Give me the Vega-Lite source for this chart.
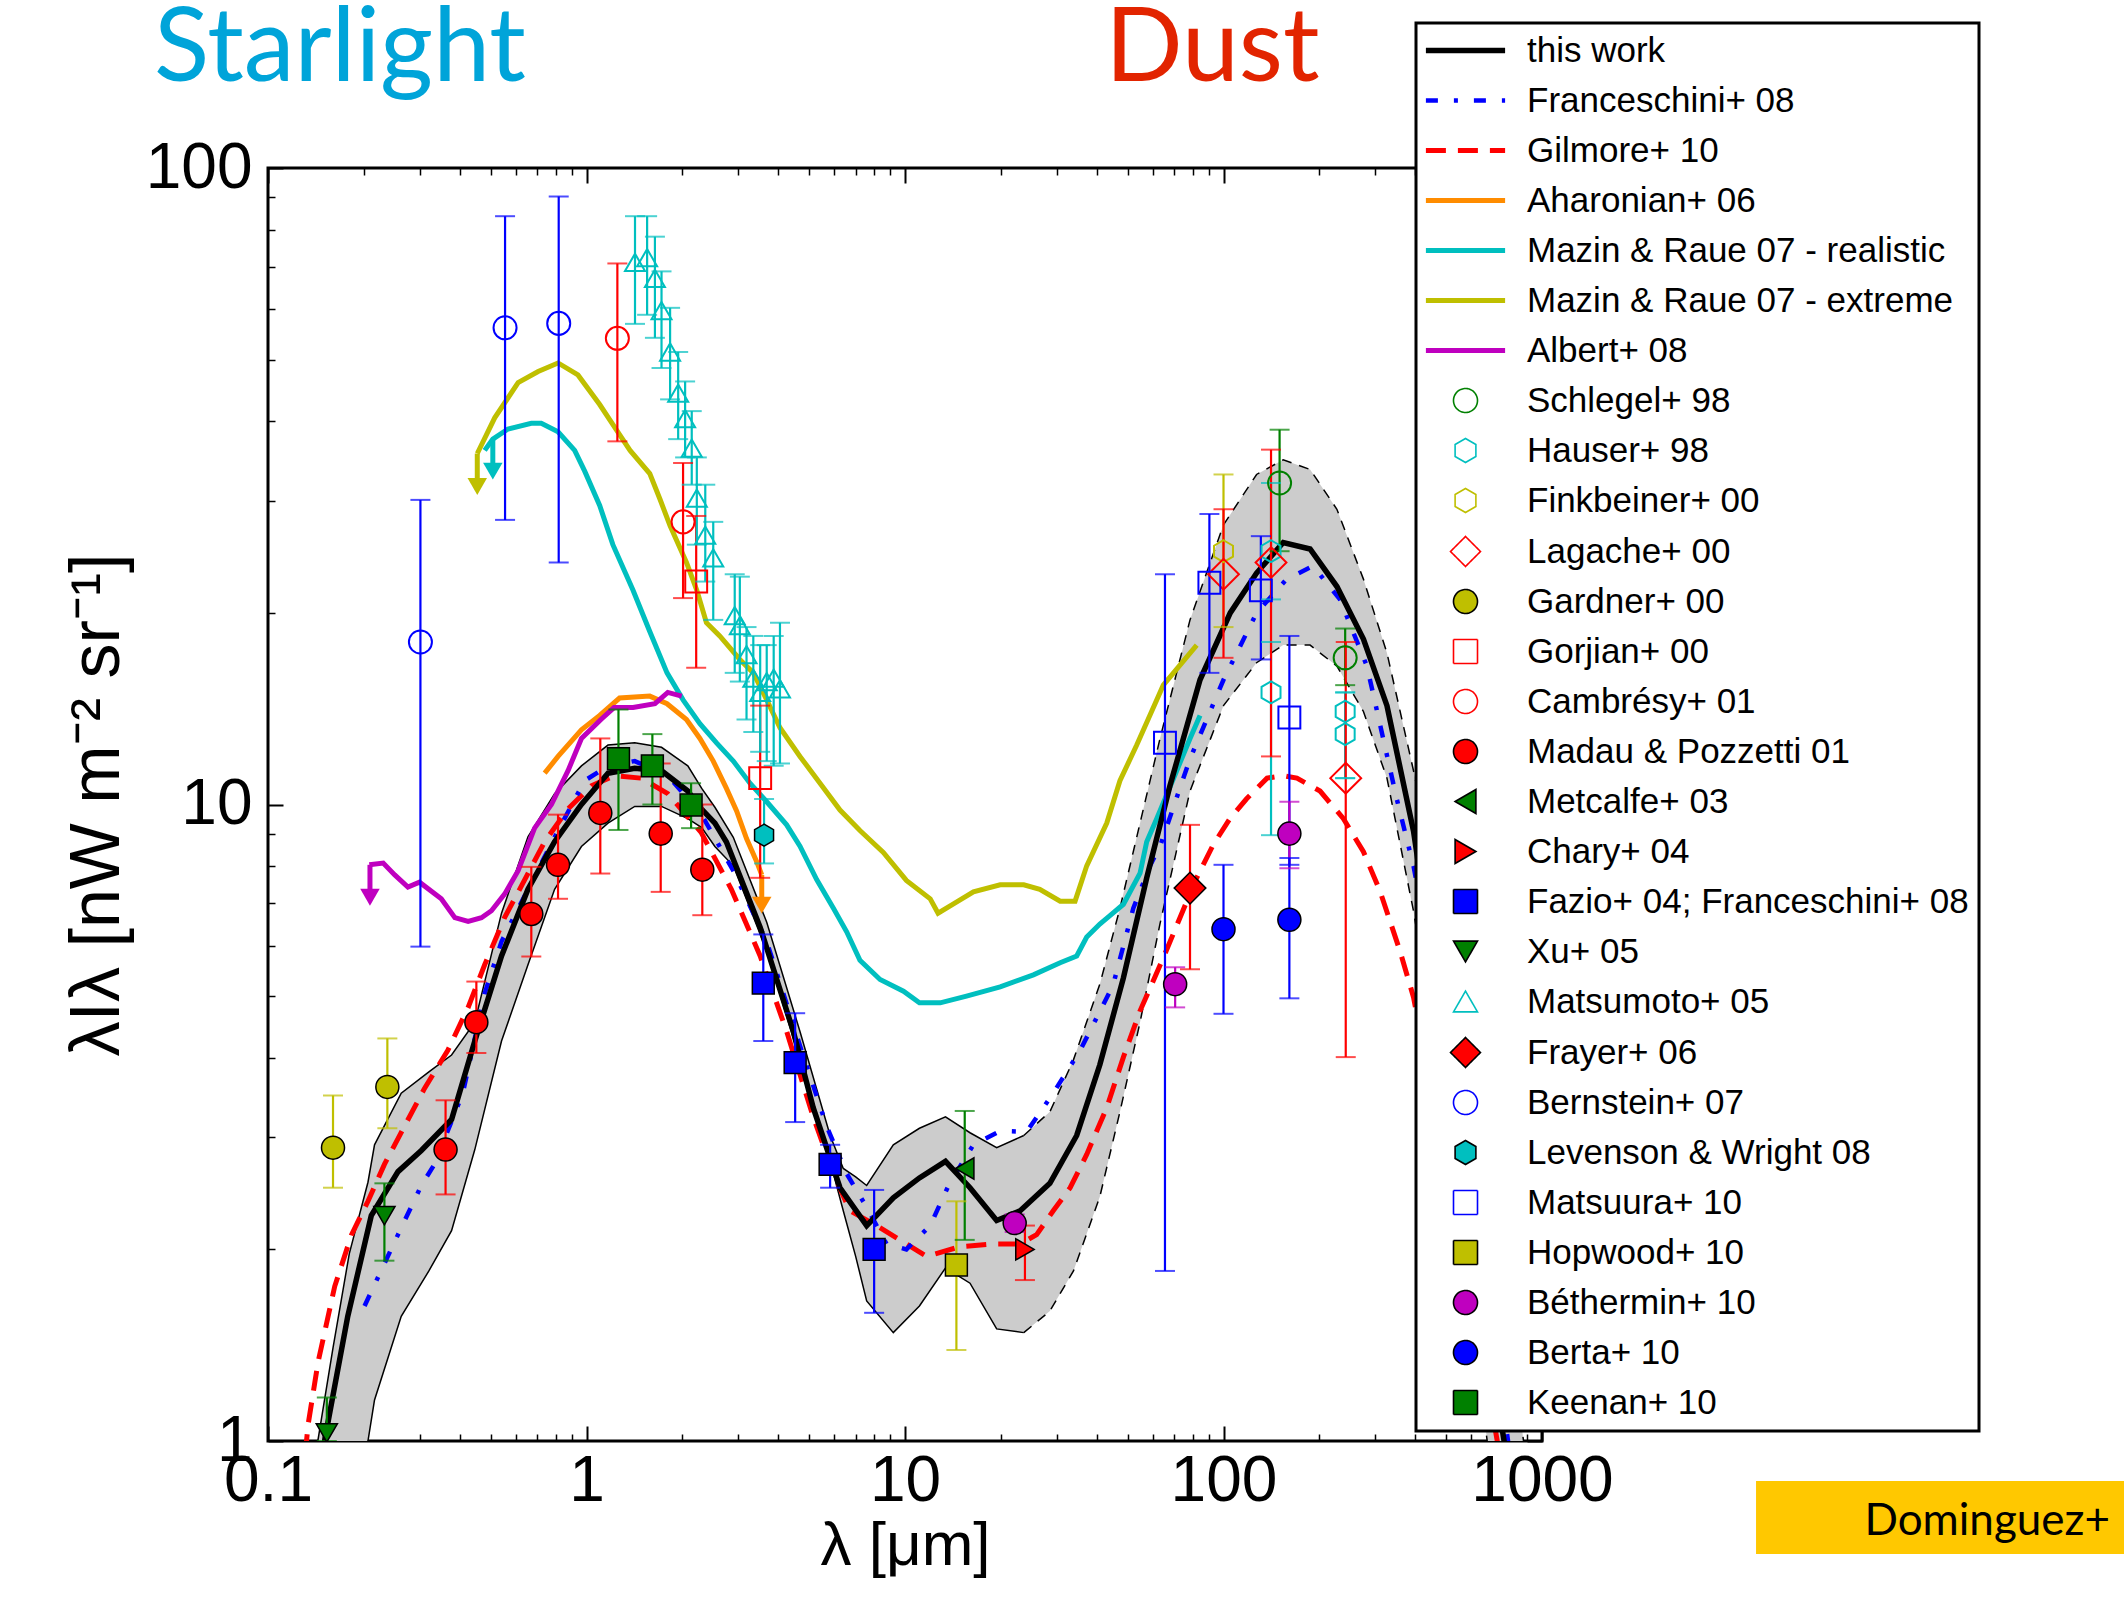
{
  "$schema": "https://vega.github.io/schema/vega-lite/v6.json",
  "width": 1274,
  "height": 1273,
  "autosize": {"type": "none"},
  "padding": {"left": 268, "top": 168, "right": 582, "bottom": 157},
  "background": "white",
  "config": {"view": {"stroke": "black", "strokeWidth": 3}, "axis": {"grid": false, "domain": false}},
  "params": [
    {"name": "SHP", "expr": "{'this work':'M-3.3,0H3.3','Franceschini+ 08':'M-3.3,0H3.3','Gilmore+ 10':'M-3.3,0H3.3','Aharonian+ 06':'M-3.3,0H3.3','Mazin & Raue 07 - realistic':'M-3.3,0H3.3','Mazin & Raue 07 - extreme':'M-3.3,0H3.3','Albert+ 08':'M-3.3,0H3.3','Schlegel+ 98':'circle','Hauser+ 98':'M0,-1L0.866,-0.5L0.866,0.5L0,1L-0.866,0.5L-0.866,-0.5Z','Finkbeiner+ 00':'M0,-1L0.866,-0.5L0.866,0.5L0,1L-0.866,0.5L-0.866,-0.5Z','Lagache+ 00':'diamond','Gardner+ 00':'circle','Gorjian+ 00':'square','Cambrésy+ 01':'circle','Madau & Pozzetti 01':'circle','Metcalfe+ 03':'triangle-left','Chary+ 04':'triangle-right','Fazio+ 04; Franceschini+ 08':'square','Xu+ 05':'triangle-down','Matsumoto+ 05':'triangle-up','Frayer+ 06':'diamond','Bernstein+ 07':'circle','Levenson & Wright 08':'M0,-1L0.866,-0.5L0.866,0.5L0,1L-0.866,0.5L-0.866,-0.5Z','Matsuura+ 10':'square','Hopwood+ 10':'square','Béthermin+ 10':'circle','Berta+ 10':'circle','Keenan+ 10':'square'}"},
    {"name": "FIL", "expr": "{'Gardner+ 00':'#BFBF00','Madau & Pozzetti 01':'#FF0000','Metcalfe+ 03':'#008000','Chary+ 04':'#FF0000','Fazio+ 04; Franceschini+ 08':'#0000FF','Xu+ 05':'#008000','Frayer+ 06':'#FF0000','Levenson & Wright 08':'#00BFBF','Hopwood+ 10':'#BFBF00','Béthermin+ 10':'#BF00BF','Berta+ 10':'#0000FF','Keenan+ 10':'#008000'}"},
    {"name": "DSH", "expr": "{'Franceschini+ 08':[12,16,4,16],'Gilmore+ 10':[20,12]}"},
    {"name": "LW", "expr": "{'this work':5.5,'Franceschini+ 08':4.5,'Gilmore+ 10':5,'Aharonian+ 06':5,'Mazin & Raue 07 - realistic':5,'Mazin & Raue 07 - extreme':5,'Albert+ 08':5}"}
  ],
  "datasets": {
    "band": [
      {"x":0.14,"lo":0.4,"hi":0.93},{"x":0.16,"lo":0.55,"hi":1.4},{"x":0.18,"lo":0.75,"hi":1.97},{"x":0.206,"lo":1.0,"hi":2.55},
      {"x":0.216,"lo":1.16,"hi":2.92},{"x":0.262,"lo":1.57,"hi":3.52},{"x":0.32,"lo":1.85,"hi":3.8},{"x":0.377,"lo":2.14,"hi":4.04},
      {"x":0.446,"lo":2.87,"hi":4.55},{"x":0.541,"lo":4.25,"hi":6.75},{"x":0.655,"lo":5.6,"hi":8.9},{"x":0.794,"lo":7.36,"hi":10.4},
      {"x":0.964,"lo":8.59,"hi":11.5},{"x":1.168,"lo":9.35,"hi":12.4},{"x":1.417,"lo":9.93,"hi":12.5},{"x":1.72,"lo":9.93,"hi":12.3},
      {"x":2.08,"lo":9.5,"hi":11.5},{"x":2.3,"lo":9.2,"hi":10.6},{"x":2.53,"lo":8.59,"hi":9.9},{"x":2.89,"lo":8.01,"hi":8.88},
      {"x":3.68,"lo":5.89,"hi":6.53},{"x":4.68,"lo":3.97,"hi":4.4},{"x":5.82,"lo":2.75,"hi":3.02},{"x":6.4,"lo":2.3,"hi":2.68},
      {"x":7.0,"lo":1.95,"hi":2.6},{"x":7.58,"lo":1.66,"hi":2.52},{"x":9.19,"lo":1.48,"hi":2.92},{"x":11.1,"lo":1.63,"hi":3.1},
      {"x":13.4,"lo":1.87,"hi":3.23},{"x":16.0,"lo":1.77,"hi":3.05},{"x":19.4,"lo":1.5,"hi":2.89},{"x":23.6,"lo":1.48,"hi":3.02},
      {"x":28.5,"lo":1.6,"hi":3.29},{"x":33.8,"lo":1.85,"hi":3.97},{"x":40.9,"lo":2.42,"hi":5.22},{"x":47.3,"lo":3.29,"hi":6.87},
      {"x":54.7,"lo":4.55,"hi":9.35},{"x":63.2,"lo":6.5,"hi":12.7},{"x":78.5,"lo":10.5,"hi":19.5},{"x":100,"lo":14.3,"hi":27.5},
      {"x":127,"lo":16.7,"hi":33.0},{"x":154,"lo":17.8,"hi":34.8},{"x":187,"lo":17.8,"hi":33.6},{"x":227,"lo":16.5,"hi":29.1},
      {"x":275,"lo":14.0,"hi":22.6},{"x":326,"lo":11.0,"hi":17.3},{"x":395,"lo":6.8,"hi":11.3},{"x":500,"lo":3.3,"hi":6.5},
      {"x":600,"lo":1.6,"hi":3.8},{"x":700,"lo":0.85,"hi":2.3},{"x":800,"lo":0.5,"hi":1.4},{"x":900,"lo":0.3,"hi":0.9}
    ],
    "lines": [
      {"s":"this work","x":0.14,"y":0.75},{"s":"this work","x":0.151,"y":1.01},{"s":"this work","x":0.178,"y":1.57},{"s":"this work","x":0.211,"y":2.26},
      {"s":"this work","x":0.256,"y":2.65},{"s":"this work","x":0.303,"y":2.86},{"s":"this work","x":0.377,"y":3.2},{"s":"this work","x":0.446,"y":4.25},
      {"s":"this work","x":0.541,"y":5.78},{"s":"this work","x":0.655,"y":7.36},{"s":"this work","x":0.794,"y":8.74},{"s":"this work","x":0.964,"y":10.0},
      {"s":"this work","x":1.168,"y":11.2},{"s":"this work","x":1.417,"y":11.4},{"s":"this work","x":1.72,"y":11.3},{"s":"this work","x":2.08,"y":10.5},
      {"s":"this work","x":2.27,"y":9.9},{"s":"this work","x":2.53,"y":9.35},{"s":"this work","x":2.75,"y":8.73},{"s":"this work","x":3.51,"y":6.41},
      {"s":"this work","x":4.46,"y":4.4},{"s":"this work","x":5.15,"y":3.34},{"s":"this work","x":6.25,"y":2.5},{"s":"this work","x":7.58,"y":2.18},
      {"s":"this work","x":9.19,"y":2.41},{"s":"this work","x":11.1,"y":2.59},{"s":"this work","x":13.4,"y":2.75},{"s":"this work","x":16.0,"y":2.5},
      {"s":"this work","x":19.4,"y":2.22},{"s":"this work","x":23.0,"y":2.3},{"s":"this work","x":28.5,"y":2.54},{"s":"this work","x":34.6,"y":3.02},
      {"s":"this work","x":40.9,"y":3.9},{"s":"this work","x":48.5,"y":5.34},{"s":"this work","x":57.4,"y":7.67},{"s":"this work","x":67.9,"y":10.7},
      {"s":"this work","x":84.4,"y":15.7},{"s":"this work","x":105,"y":20.0},{"s":"this work","x":127,"y":23.1},{"s":"this work","x":154,"y":25.8},
      {"s":"this work","x":187,"y":25.2},{"s":"this work","x":227,"y":22.0},{"s":"this work","x":275,"y":18.2},{"s":"this work","x":326,"y":14.3},
      {"s":"this work","x":395,"y":9.08},{"s":"this work","x":500,"y":4.1},{"s":"this work","x":600,"y":2.2},{"s":"this work","x":700,"y":1.3},{"s":"this work","x":800,"y":0.85},

      {"s":"Franceschini+ 08","x":0.201,"y":1.63},{"s":"Franceschini+ 08","x":0.256,"y":2.11},{"s":"Franceschini+ 08","x":0.303,"y":2.52},{"s":"Franceschini+ 08","x":0.333,"y":2.72},
      {"s":"Franceschini+ 08","x":0.409,"y":3.52},{"s":"Franceschini+ 08","x":0.479,"y":5.05},{"s":"Franceschini+ 08","x":0.541,"y":6.09},{"s":"Franceschini+ 08","x":0.655,"y":7.36},
      {"s":"Franceschini+ 08","x":0.794,"y":8.88},{"s":"Franceschini+ 08","x":0.987,"y":10.9},{"s":"Franceschini+ 08","x":1.168,"y":11.5},{"s":"Franceschini+ 08","x":1.417,"y":11.7},
      {"s":"Franceschini+ 08","x":1.8,"y":11.1},{"s":"Franceschini+ 08","x":2.29,"y":9.67},{"s":"Franceschini+ 08","x":2.89,"y":7.87},{"s":"Franceschini+ 08","x":3.68,"y":6.09},
      {"s":"Franceschini+ 08","x":4.68,"y":4.18},{"s":"Franceschini+ 08","x":5.68,"y":3.12},{"s":"Franceschini+ 08","x":6.56,"y":2.63},{"s":"Franceschini+ 08","x":7.58,"y":2.33},
      {"s":"Franceschini+ 08","x":8.75,"y":2.04},{"s":"Franceschini+ 08","x":10.1,"y":2.0},{"s":"Franceschini+ 08","x":12.0,"y":2.18},{"s":"Franceschini+ 08","x":13.8,"y":2.54},
      {"s":"Franceschini+ 08","x":16.4,"y":2.92},{"s":"Franceschini+ 08","x":19.9,"y":3.07},{"s":"Franceschini+ 08","x":24.1,"y":3.06},{"s":"Franceschini+ 08","x":29.2,"y":3.52},
      {"s":"Franceschini+ 08","x":35.5,"y":4.11},{"s":"Franceschini+ 08","x":45,"y":5.2},{"s":"Franceschini+ 08","x":52.1,"y":6.87},{"s":"Franceschini+ 08","x":58.7,"y":8.0},
      {"s":"Franceschini+ 08","x":63.2,"y":8.6},{"s":"Franceschini+ 08","x":78.5,"y":11.8},{"s":"Franceschini+ 08","x":100,"y":15.7},{"s":"Franceschini+ 08","x":127,"y":20.0},
      {"s":"Franceschini+ 08","x":158,"y":22.6},{"s":"Franceschini+ 08","x":191,"y":23.7},{"s":"Franceschini+ 08","x":232,"y":21.0},{"s":"Franceschini+ 08","x":282,"y":16.5},
      {"s":"Franceschini+ 08","x":350,"y":10.2},{"s":"Franceschini+ 08","x":395,"y":8.0},{"s":"Franceschini+ 08","x":500,"y":4.3},{"s":"Franceschini+ 08","x":700,"y":1.5},{"s":"Franceschini+ 08","x":900,"y":0.6},

      {"s":"Gilmore+ 10","x":0.128,"y":0.85},{"s":"Gilmore+ 10","x":0.1336,"y":1.06},{"s":"Gilmore+ 10","x":0.1436,"y":1.33},{"s":"Gilmore+ 10","x":0.162,"y":1.75},
      {"s":"Gilmore+ 10","x":0.183,"y":2.11},{"s":"Gilmore+ 10","x":0.206,"y":2.38},{"s":"Gilmore+ 10","x":0.232,"y":2.72},{"s":"Gilmore+ 10","x":0.268,"y":3.12},
      {"s":"Gilmore+ 10","x":0.31,"y":3.58},{"s":"Gilmore+ 10","x":0.367,"y":4.11},{"s":"Gilmore+ 10","x":0.425,"y":4.8},{"s":"Gilmore+ 10","x":0.479,"y":5.6},
      {"s":"Gilmore+ 10","x":0.553,"y":6.64},{"s":"Gilmore+ 10","x":0.64,"y":7.62},{"s":"Gilmore+ 10","x":0.739,"y":8.74},{"s":"Gilmore+ 10","x":0.875,"y":9.84},
      {"s":"Gilmore+ 10","x":1.036,"y":10.7},{"s":"Gilmore+ 10","x":1.224,"y":11.1},{"s":"Gilmore+ 10","x":1.485,"y":11.0},{"s":"Gilmore+ 10","x":1.8,"y":10.4},
      {"s":"Gilmore+ 10","x":2.29,"y":9.04},{"s":"Gilmore+ 10","x":2.85,"y":7.36},{"s":"Gilmore+ 10","x":3.51,"y":5.78},{"s":"Gilmore+ 10","x":4.25,"y":4.4},
      {"s":"Gilmore+ 10","x":5.15,"y":3.23},{"s":"Gilmore+ 10","x":5.96,"y":2.63},{"s":"Gilmore+ 10","x":6.72,"y":2.3},{"s":"Gilmore+ 10","x":8.15,"y":2.18},
      {"s":"Gilmore+ 10","x":9.64,"y":2.07},{"s":"Gilmore+ 10","x":11.7,"y":1.95},{"s":"Gilmore+ 10","x":14.9,"y":2.02},{"s":"Gilmore+ 10","x":18.9,"y":2.04},
      {"s":"Gilmore+ 10","x":23.0,"y":2.04},{"s":"Gilmore+ 10","x":25.9,"y":2.11},{"s":"Gilmore+ 10","x":29.2,"y":2.3},{"s":"Gilmore+ 10","x":33.0,"y":2.5},
      {"s":"Gilmore+ 10","x":37.2,"y":2.82},{"s":"Gilmore+ 10","x":43.0,"y":3.34},{"s":"Gilmore+ 10","x":48.5,"y":4.01},{"s":"Gilmore+ 10","x":54.7,"y":4.74},
      {"s":"Gilmore+ 10","x":64.7,"y":5.74},{"s":"Gilmore+ 10","x":73.0,"y":6.64},{"s":"Gilmore+ 10","x":82.4,"y":7.67},{"s":"Gilmore+ 10","x":92.9,"y":8.65},
      {"s":"Gilmore+ 10","x":105,"y":9.52},{"s":"Gilmore+ 10","x":118,"y":10.2},{"s":"Gilmore+ 10","x":137,"y":11.0},{"s":"Gilmore+ 10","x":154,"y":11.1},
      {"s":"Gilmore+ 10","x":170,"y":11.0},{"s":"Gilmore+ 10","x":201,"y":10.5},{"s":"Gilmore+ 10","x":238,"y":9.5},{"s":"Gilmore+ 10","x":275,"y":8.43},
      {"s":"Gilmore+ 10","x":310,"y":7.31},{"s":"Gilmore+ 10","x":358,"y":5.89},{"s":"Gilmore+ 10","x":395,"y":4.98},{"s":"Gilmore+ 10","x":500,"y":2.7},
      {"s":"Gilmore+ 10","x":600,"y":1.7},{"s":"Gilmore+ 10","x":700,"y":1.1},{"s":"Gilmore+ 10","x":800,"y":0.75},

      {"s":"Aharonian+ 06","x":0.739,"y":11.2},{"s":"Aharonian+ 06","x":0.814,"y":11.9},{"s":"Aharonian+ 06","x":0.964,"y":13.1},{"s":"Aharonian+ 06","x":1.1,"y":13.8},
      {"s":"Aharonian+ 06","x":1.27,"y":14.7},{"s":"Aharonian+ 06","x":1.58,"y":14.8},{"s":"Aharonian+ 06","x":1.79,"y":14.4},{"s":"Aharonian+ 06","x":2.06,"y":13.6},
      {"s":"Aharonian+ 06","x":2.27,"y":12.7},{"s":"Aharonian+ 06","x":2.5,"y":11.7},{"s":"Aharonian+ 06","x":2.75,"y":10.6},{"s":"Aharonian+ 06","x":2.96,"y":9.77},
      {"s":"Aharonian+ 06","x":3.18,"y":8.84},{"s":"Aharonian+ 06","x":3.42,"y":8.14},{"s":"Aharonian+ 06","x":3.55,"y":7.75},

      {"s":"Mazin & Raue 07 - realistic","x":0.479,"y":36.0},{"s":"Mazin & Raue 07 - realistic","x":0.508,"y":37.5},{"s":"Mazin & Raue 07 - realistic","x":0.567,"y":38.9},
      {"s":"Mazin & Raue 07 - realistic","x":0.671,"y":39.7},{"s":"Mazin & Raue 07 - realistic","x":0.721,"y":39.7},{"s":"Mazin & Raue 07 - realistic","x":0.814,"y":38.5},
      {"s":"Mazin & Raue 07 - realistic","x":0.918,"y":36.0},{"s":"Mazin & Raue 07 - realistic","x":0.987,"y":33.4},{"s":"Mazin & Raue 07 - realistic","x":1.1,"y":29.5},
      {"s":"Mazin & Raue 07 - realistic","x":1.21,"y":25.6},{"s":"Mazin & Raue 07 - realistic","x":1.4,"y":21.7},{"s":"Mazin & Raue 07 - realistic","x":1.58,"y":18.7},
      {"s":"Mazin & Raue 07 - realistic","x":1.79,"y":16.1},{"s":"Mazin & Raue 07 - realistic","x":2.01,"y":14.6},{"s":"Mazin & Raue 07 - realistic","x":2.27,"y":13.4},
      {"s":"Mazin & Raue 07 - realistic","x":2.56,"y":12.5},{"s":"Mazin & Raue 07 - realistic","x":2.89,"y":11.7},{"s":"Mazin & Raue 07 - realistic","x":3.26,"y":10.8},
      {"s":"Mazin & Raue 07 - realistic","x":3.68,"y":10.1},{"s":"Mazin & Raue 07 - realistic","x":4.25,"y":9.29},{"s":"Mazin & Raue 07 - realistic","x":4.68,"y":8.6},
      {"s":"Mazin & Raue 07 - realistic","x":5.28,"y":7.62},{"s":"Mazin & Raue 07 - realistic","x":5.96,"y":6.87},{"s":"Mazin & Raue 07 - realistic","x":6.56,"y":6.31},
      {"s":"Mazin & Raue 07 - realistic","x":7.22,"y":5.69},{"s":"Mazin & Raue 07 - realistic","x":8.35,"y":5.31},{"s":"Mazin & Raue 07 - realistic","x":9.89,"y":5.09},
      {"s":"Mazin & Raue 07 - realistic","x":11.1,"y":4.88},{"s":"Mazin & Raue 07 - realistic","x":12.9,"y":4.88},{"s":"Mazin & Raue 07 - realistic","x":15.6,"y":5.0},
      {"s":"Mazin & Raue 07 - realistic","x":19.9,"y":5.17},{"s":"Mazin & Raue 07 - realistic","x":25.3,"y":5.4},{"s":"Mazin & Raue 07 - realistic","x":30.7,"y":5.64},
      {"s":"Mazin & Raue 07 - realistic","x":34.6,"y":5.78},{"s":"Mazin & Raue 07 - realistic","x":37.2,"y":6.19},{"s":"Mazin & Raue 07 - realistic","x":40.9,"y":6.49},
      {"s":"Mazin & Raue 07 - realistic","x":44.0,"y":6.69},{"s":"Mazin & Raue 07 - realistic","x":48.5,"y":6.97},{"s":"Mazin & Raue 07 - realistic","x":54.7,"y":7.8},
      {"s":"Mazin & Raue 07 - realistic","x":57.4,"y":8.74},{"s":"Mazin & Raue 07 - realistic","x":61.7,"y":9.5},{"s":"Mazin & Raue 07 - realistic","x":71.3,"y":11.3},
      {"s":"Mazin & Raue 07 - realistic","x":78.5,"y":12.7},{"s":"Mazin & Raue 07 - realistic","x":84.4,"y":13.8},

      {"s":"Mazin & Raue 07 - extreme","x":0.454,"y":35.6},{"s":"Mazin & Raue 07 - extreme","x":0.515,"y":40.5},{"s":"Mazin & Raue 07 - extreme","x":0.61,"y":46.0},
      {"s":"Mazin & Raue 07 - extreme","x":0.705,"y":47.9},{"s":"Mazin & Raue 07 - extreme","x":0.814,"y":49.4},{"s":"Mazin & Raue 07 - extreme","x":0.94,"y":47.3},
      {"s":"Mazin & Raue 07 - extreme","x":1.1,"y":42.5},{"s":"Mazin & Raue 07 - extreme","x":1.24,"y":38.8},{"s":"Mazin & Raue 07 - extreme","x":1.37,"y":36.0},
      {"s":"Mazin & Raue 07 - extreme","x":1.58,"y":33.1},{"s":"Mazin & Raue 07 - extreme","x":1.7,"y":30.2},{"s":"Mazin & Raue 07 - extreme","x":1.83,"y":27.4},
      {"s":"Mazin & Raue 07 - extreme","x":2.06,"y":24.0},{"s":"Mazin & Raue 07 - extreme","x":2.22,"y":21.7},{"s":"Mazin & Raue 07 - extreme","x":2.38,"y":19.3},
      {"s":"Mazin & Raue 07 - extreme","x":2.62,"y":18.4},{"s":"Mazin & Raue 07 - extreme","x":3.03,"y":16.9},{"s":"Mazin & Raue 07 - extreme","x":3.34,"y":16.1},
      {"s":"Mazin & Raue 07 - extreme","x":3.68,"y":14.6},{"s":"Mazin & Raue 07 - extreme","x":4.05,"y":13.2},{"s":"Mazin & Raue 07 - extreme","x":4.68,"y":11.9},
      {"s":"Mazin & Raue 07 - extreme","x":5.41,"y":10.8},{"s":"Mazin & Raue 07 - extreme","x":6.25,"y":9.8},{"s":"Mazin & Raue 07 - extreme","x":7.22,"y":9.1},
      {"s":"Mazin & Raue 07 - extreme","x":8.55,"y":8.41},{"s":"Mazin & Raue 07 - extreme","x":10.1,"y":7.6},{"s":"Mazin & Raue 07 - extreme","x":12.0,"y":7.11},
      {"s":"Mazin & Raue 07 - extreme","x":12.7,"y":6.75},{"s":"Mazin & Raue 07 - extreme","x":14.2,"y":6.98},{"s":"Mazin & Raue 07 - extreme","x":16.4,"y":7.29},
      {"s":"Mazin & Raue 07 - extreme","x":19.9,"y":7.48},{"s":"Mazin & Raue 07 - extreme","x":23.6,"y":7.48},{"s":"Mazin & Raue 07 - extreme","x":26.5,"y":7.36},
      {"s":"Mazin & Raue 07 - extreme","x":30.7,"y":7.05},{"s":"Mazin & Raue 07 - extreme","x":34.2,"y":7.05},{"s":"Mazin & Raue 07 - extreme","x":37.2,"y":8.01},
      {"s":"Mazin & Raue 07 - extreme","x":43.0,"y":9.35},{"s":"Mazin & Raue 07 - extreme","x":47.3,"y":10.9},{"s":"Mazin & Raue 07 - extreme","x":53.4,"y":12.4},
      {"s":"Mazin & Raue 07 - extreme","x":61.7,"y":14.6},{"s":"Mazin & Raue 07 - extreme","x":64.7,"y":15.4},{"s":"Mazin & Raue 07 - extreme","x":82.4,"y":17.8},

      {"s":"Albert+ 08","x":0.208,"y":8.04},{"s":"Albert+ 08","x":0.23,"y":8.09},{"s":"Albert+ 08","x":0.25,"y":7.75},{"s":"Albert+ 08","x":0.275,"y":7.42},
      {"s":"Albert+ 08","x":0.299,"y":7.55},{"s":"Albert+ 08","x":0.35,"y":7.11},{"s":"Albert+ 08","x":0.386,"y":6.64},{"s":"Albert+ 08","x":0.425,"y":6.55},
      {"s":"Albert+ 08","x":0.468,"y":6.64},{"s":"Albert+ 08","x":0.503,"y":6.81},{"s":"Albert+ 08","x":0.553,"y":7.23},{"s":"Albert+ 08","x":0.61,"y":7.87},
      {"s":"Albert+ 08","x":0.687,"y":9.18},{"s":"Albert+ 08","x":0.776,"y":10.0},{"s":"Albert+ 08","x":0.875,"y":11.3},{"s":"Albert+ 08","x":0.964,"y":12.7},
      {"s":"Albert+ 08","x":1.11,"y":13.6},{"s":"Albert+ 08","x":1.22,"y":14.2},{"s":"Albert+ 08","x":1.4,"y":14.2},{"s":"Albert+ 08","x":1.64,"y":14.4},
      {"s":"Albert+ 08","x":1.8,"y":15.0},{"s":"Albert+ 08","x":1.99,"y":14.8}
    ],
    "arrows": [
      {"s":"Mazin & Raue 07 - extreme","x":0.454,"top":35.6,"head":31.6},
      {"s":"Mazin & Raue 07 - realistic","x":0.508,"top":37.5,"head":33.4},
      {"s":"Albert+ 08","x":0.209,"top":8.04,"head":7.15},
      {"s":"Aharonian+ 06","x":3.55,"top":7.75,"head":6.95}
    ],
    "points": [
      {"s":"Bernstein+ 07","x":0.301,"y":18.0,"lo":5.98,"hi":30.1},{"s":"Bernstein+ 07","x":0.555,"y":56.1,"lo":28.0,"hi":84.0},{"s":"Bernstein+ 07","x":0.818,"y":57.0,"lo":24.0,"hi":90.2},
      {"s":"Cambrésy+ 01","x":1.25,"y":54.0,"lo":37.2,"hi":70.8},{"s":"Cambrésy+ 01","x":2.01,"y":27.8,"lo":21.1,"hi":34.4},
      {"s":"Gorjian+ 00","x":2.21,"y":22.4,"lo":16.4,"hi":28.4},{"s":"Gorjian+ 00","x":3.51,"y":11.0,"lo":7.67,"hi":14.3},
      {"s":"Matsumoto+ 05","x":1.42,"y":71.1,"lo":56.9,"hi":84.0},{"s":"Matsumoto+ 05","x":1.55,"y":72.3,"lo":58.8,"hi":84.0},
      {"s":"Matsumoto+ 05","x":1.64,"y":67.1,"lo":54.1,"hi":78.0},{"s":"Matsumoto+ 05","x":1.72,"y":59.7,"lo":48.5,"hi":68.8},
      {"s":"Matsumoto+ 05","x":1.83,"y":51.4,"lo":43.3,"hi":60.3},{"s":"Matsumoto+ 05","x":1.94,"y":44.3,"lo":37.5,"hi":51.4},
      {"s":"Matsumoto+ 05","x":2.04,"y":40.4,"lo":35.1,"hi":46.2},{"s":"Matsumoto+ 05","x":2.14,"y":36.3,"lo":31.8,"hi":41.5},
      {"s":"Matsumoto+ 05","x":2.22,"y":30.3,"lo":25.6,"hi":35.1},{"s":"Matsumoto+ 05","x":2.36,"y":26.5,"lo":22.4,"hi":31.8},
      {"s":"Matsumoto+ 05","x":2.5,"y":24.4,"lo":19.5,"hi":27.8},{"s":"Matsumoto+ 05","x":2.92,"y":19.8,"lo":16.1,"hi":23.0},
      {"s":"Matsumoto+ 05","x":3.03,"y":19.1,"lo":15.6,"hi":22.8},{"s":"Matsumoto+ 05","x":3.18,"y":17.2,"lo":13.6,"hi":19.0},
      {"s":"Matsumoto+ 05","x":3.34,"y":15.8,"lo":13.0,"hi":18.4},{"s":"Matsumoto+ 05","x":3.51,"y":15.0,"lo":12.1,"hi":17.8},
      {"s":"Matsumoto+ 05","x":3.68,"y":15.6,"lo":11.7,"hi":17.8},{"s":"Matsumoto+ 05","x":3.87,"y":15.8,"lo":11.5,"hi":18.4},
      {"s":"Matsumoto+ 05","x":4.05,"y":15.2,"lo":11.6,"hi":19.3},
      {"s":"Levenson & Wright 08","x":3.61,"y":8.95,"lo":8.08,"hi":10.2},
      {"s":"Schlegel+ 98","x":150,"y":32.0,"lo":25.0,"hi":38.8},{"s":"Schlegel+ 98","x":241,"y":17.0,"lo":15.4,"hi":18.9},
      {"s":"Hauser+ 98","x":141,"y":25.0,"lo":21.0,"hi":32.0},{"s":"Hauser+ 98","x":141,"y":15.0,"lo":8.95,"hi":18.0},
      {"s":"Hauser+ 98","x":241,"y":14.0,"lo":11.0,"hi":15.0},{"s":"Hauser+ 98","x":241,"y":12.9,"lo":11.0,"hi":15.0},
      {"s":"Finkbeiner+ 00","x":100,"y":25.0,"lo":19.0,"hi":33.0},
      {"s":"Lagache+ 00","x":100,"y":23.0,"lo":17.0,"hi":29.1},{"s":"Lagache+ 00","x":141,"y":24.0,"lo":11.9,"hi":36.1},{"s":"Lagache+ 00","x":242,"y":11.0,"lo":4.01,"hi":18.0},
      {"s":"Gardner+ 00","x":0.16,"y":2.89,"lo":2.5,"hi":3.49},{"s":"Gardner+ 00","x":0.237,"y":3.6,"lo":3.1,"hi":4.29},
      {"s":"Madau & Pozzetti 01","x":0.361,"y":2.87,"lo":2.44,"hi":3.43},{"s":"Madau & Pozzetti 01","x":0.451,"y":4.55,"lo":4.07,"hi":5.27},
      {"s":"Madau & Pozzetti 01","x":0.671,"y":6.73,"lo":5.77,"hi":7.98},{"s":"Madau & Pozzetti 01","x":0.814,"y":8.04,"lo":7.11,"hi":9.64},
      {"s":"Madau & Pozzetti 01","x":1.105,"y":9.7,"lo":7.79,"hi":12.7},{"s":"Madau & Pozzetti 01","x":1.71,"y":9.0,"lo":7.29,"hi":11.6},
      {"s":"Madau & Pozzetti 01","x":2.31,"y":7.9,"lo":6.7,"hi":10.0},
      {"s":"Metcalfe+ 03","x":15.4,"y":2.68,"lo":2.07,"hi":3.3},
      {"s":"Chary+ 04","x":23.8,"y":2.0,"lo":1.79,"hi":2.18},
      {"s":"Fazio+ 04; Franceschini+ 08","x":3.59,"y":5.24,"lo":4.25,"hi":6.25},{"s":"Fazio+ 04; Franceschini+ 08","x":4.52,"y":3.93,"lo":3.17,"hi":4.7},
      {"s":"Fazio+ 04; Franceschini+ 08","x":5.82,"y":2.72,"lo":2.5,"hi":2.92},{"s":"Fazio+ 04; Franceschini+ 08","x":8.0,"y":2.0,"lo":1.59,"hi":2.48},
      {"s":"Xu+ 05","x":0.232,"y":2.26,"lo":1.92,"hi":2.54},{"s":"Xu+ 05","x":0.153,"y":1.03,"lo":1.0,"hi":1.17},
      {"s":"Frayer+ 06","x":78.5,"y":7.39,"lo":5.51,"hi":9.29},
      {"s":"Matsuura+ 10","x":65.5,"y":12.5,"lo":1.85,"hi":23.0},{"s":"Matsuura+ 10","x":90.3,"y":22.3,"lo":16.1,"hi":28.6},
      {"s":"Matsuura+ 10","x":131,"y":21.7,"lo":16.9,"hi":26.4},{"s":"Matsuura+ 10","x":161,"y":13.7,"lo":8.04,"hi":18.4},
      {"s":"Hopwood+ 10","x":14.5,"y":1.89,"lo":1.39,"hi":2.38},
      {"s":"Béthermin+ 10","x":22.1,"y":2.2,"lo":2.13,"hi":2.27},{"s":"Béthermin+ 10","x":70.5,"y":5.22,"lo":4.8,"hi":5.55},{"s":"Béthermin+ 10","x":161,"y":9.0,"lo":7.94,"hi":10.1},
      {"s":"Berta+ 10","x":100,"y":6.37,"lo":4.69,"hi":8.04},{"s":"Berta+ 10","x":161,"y":6.59,"lo":4.96,"hi":8.24},
      {"s":"Keenan+ 10","x":1.26,"y":11.8,"lo":9.12,"hi":14.1},{"s":"Keenan+ 10","x":1.61,"y":11.5,"lo":10.0,"hi":12.9},{"s":"Keenan+ 10","x":2.13,"y":9.98,"lo":9.18,"hi":10.8}
    ]
  },
  "resolve": {"axis": {"x": "independent", "y": "independent"}},
  "layer": [
    {
      "data": {"name": "band"},
      "mark": {"type": "area", "color": "#CCCCCC", "clip": true, "opacity": 1},
      "encoding": {
        "x": {"field": "x", "type": "quantitative", "scale": {"type": "log", "domain": [0.1, 1000], "nice": false},
          "axis": {"orient": "bottom", "values": [0.1, 1, 10, 100, 1000], "ticks": false, "domain": false, "grid": false, "labelExpr": "'' + datum.value", "labelFont": "Liberation Sans", "labelFontSize": 64, "labelColor": "black", "labelPadding": 8, "labelFlush": false, "labelOverlap": false, "labelBound": false, "title": "λ [μm]", "titleFont": "Liberation Sans", "titleFontSize": 62, "titleFontWeight": "normal", "titleColor": "black", "titlePadding": 2}},
        "y": {"field": "lo", "type": "quantitative", "scale": {"type": "log", "domain": [1, 100], "nice": false},
          "axis": {"orient": "left", "values": [1, 10, 100], "ticks": false, "domain": false, "grid": false, "labelExpr": "'' + datum.value", "labelFont": "Liberation Sans", "labelFontSize": 64, "labelColor": "black", "labelPadding": 16, "labelFlush": false, "labelOverlap": false, "labelBound": false, "title": "λIλ [nW m⁻² sr⁻¹]", "titleFont": "Liberation Sans", "titleFontSize": 70, "titleFontWeight": "normal", "titleColor": "black", "titlePadding": 12}},
        "y2": {"field": "hi"}
      }
    },
    {
      "data": {"name": "band"},
      "transform": [{"filter": "datum.x <= 23.6"}],
      "mark": {"type": "line", "color": "black", "strokeWidth": 1.5, "clip": true},
      "encoding": {
        "x": {"field": "x", "type": "quantitative", "scale": {"type": "log", "domain": [0.1, 1000], "nice": false},
          "axis": {"orient": "bottom", "values": [0.1, 1, 10, 100, 1000], "labels": false, "domain": false, "grid": false, "ticks": true, "tickSize": -15, "tickWidth": 2, "tickColor": "black", "title": null}},
        "y": {"field": "hi", "type": "quantitative", "scale": {"type": "log", "domain": [1, 100], "nice": false},
          "axis": {"orient": "left", "values": [1, 10, 100], "labels": false, "domain": false, "grid": false, "ticks": true, "tickSize": -15, "tickWidth": 2, "tickColor": "black", "title": null}}
      }
    },
    {
      "data": {"name": "band"},
      "transform": [{"filter": "datum.x <= 23.6"}],
      "mark": {"type": "line", "color": "black", "strokeWidth": 1.5, "clip": true},
      "encoding": {
        "x": {"field": "x", "type": "quantitative", "scale": {"type": "log", "domain": [0.1, 1000], "nice": false},
          "axis": {"orient": "bottom", "values": [0.2,0.3,0.4,0.5,0.6,0.7,0.8,0.9,2,3,4,5,6,7,8,9,20,30,40,50,60,70,80,90,200,300,400,500,600,700,800,900], "labels": false, "domain": false, "grid": false, "ticks": true, "tickSize": -7, "tickWidth": 1.5, "tickColor": "black", "title": null}},
        "y": {"field": "lo", "type": "quantitative", "scale": {"type": "log", "domain": [1, 100], "nice": false},
          "axis": {"orient": "left", "values": [2,3,4,5,6,7,8,9,20,30,40,50,60,70,80,90], "labels": false, "domain": false, "grid": false, "ticks": true, "tickSize": -7, "tickWidth": 1.5, "tickColor": "black", "title": null}}
      }
    },
    {
      "data": {"name": "band"},
      "transform": [{"filter": "datum.x >= 23.6"}],
      "mark": {"type": "line", "color": "black", "strokeWidth": 1.5, "strokeDash": [10, 8], "clip": true},
      "encoding": {
        "x": {"field": "x", "type": "quantitative", "scale": {"type": "log", "domain": [0.1, 1000], "nice": false},
          "axis": {"orient": "top", "values": [0.1, 1, 10, 100, 1000], "labels": false, "domain": false, "grid": false, "ticks": true, "tickSize": -15, "tickWidth": 2, "tickColor": "black", "title": null}},
        "y": {"field": "hi", "type": "quantitative", "scale": {"type": "log", "domain": [1, 100], "nice": false},
          "axis": {"orient": "right", "values": [1, 10, 100], "labels": false, "domain": false, "grid": false, "ticks": true, "tickSize": -15, "tickWidth": 2, "tickColor": "black", "title": null}}
      }
    },
    {
      "data": {"name": "band"},
      "transform": [{"filter": "datum.x >= 23.6"}],
      "mark": {"type": "line", "color": "black", "strokeWidth": 1.5, "strokeDash": [10, 8], "clip": true},
      "encoding": {
        "x": {"field": "x", "type": "quantitative", "scale": {"type": "log", "domain": [0.1, 1000], "nice": false},
          "axis": {"orient": "top", "values": [0.2,0.3,0.4,0.5,0.6,0.7,0.8,0.9,2,3,4,5,6,7,8,9,20,30,40,50,60,70,80,90,200,300,400,500,600,700,800,900], "labels": false, "domain": false, "grid": false, "ticks": true, "tickSize": -7, "tickWidth": 1.5, "tickColor": "black", "title": null}},
        "y": {"field": "lo", "type": "quantitative", "scale": {"type": "log", "domain": [1, 100], "nice": false},
          "axis": {"orient": "right", "values": [2,3,4,5,6,7,8,9,20,30,40,50,60,70,80,90], "labels": false, "domain": false, "grid": false, "ticks": true, "tickSize": -7, "tickWidth": 1.5, "tickColor": "black", "title": null}}
      }
    },
    {
      "data": {"name": "lines"},
      "transform": [{"filter": "indexof(['Aharonian+ 06','Mazin & Raue 07 - realistic','Mazin & Raue 07 - extreme','Albert+ 08'], datum.s) >= 0"}],
      "mark": {"type": "line", "strokeWidth": 5, "clip": true},
      "encoding": {
        "x": {"field": "x", "type": "quantitative", "scale": {"type": "log", "domain": [0.1, 1000], "nice": false}, "axis": null},
        "y": {"field": "y", "type": "quantitative", "scale": {"type": "log", "domain": [1, 100], "nice": false}, "axis": null},
        "stroke": {"field": "s", "type": "nominal",
          "scale": {"domain": ["this work","Franceschini+ 08","Gilmore+ 10","Aharonian+ 06","Mazin & Raue 07 - realistic","Mazin & Raue 07 - extreme","Albert+ 08","Schlegel+ 98","Hauser+ 98","Finkbeiner+ 00","Lagache+ 00","Gardner+ 00","Gorjian+ 00","Cambrésy+ 01","Madau & Pozzetti 01","Metcalfe+ 03","Chary+ 04","Fazio+ 04; Franceschini+ 08","Xu+ 05","Matsumoto+ 05","Frayer+ 06","Bernstein+ 07","Levenson & Wright 08","Matsuura+ 10","Hopwood+ 10","Béthermin+ 10","Berta+ 10","Keenan+ 10"],
            "range": ["#000000","#0000FF","#FF0000","#FF8C00","#00BFBF","#BFBF00","#BF00BF","#008000","#00BFBF","#BFBF00","#FF0000","#000000","#FF0000","#FF0000","#000000","#000000","#000000","#000000","#000000","#00BFBF","#000000","#0000FF","#000000","#0000FF","#000000","#000000","#000000","#000000"]},
          "legend": {
            "orient": "none", "legendX": 1148, "legendY": -145, "direction": "vertical", "columns": 1,
            "title": null, "fillColor": "white", "strokeColor": "black", "padding": 10,
            "labelFont": "Liberation Sans", "labelFontSize": 35, "labelColor": "black", "labelLimit": 1000,
            "labelOffset": 44, "symbolOffset": 22, "rowPadding": 14, "symbolSize": 576,
            "encode": {
              "legend": {"update": {"strokeWidth": {"value": 3}}},
              "symbols": {
                "update": {
                  "shape": {"signal": "SHP[datum.value]"},
                  "fill": {"signal": "FIL[datum.value] || 'transparent'"},
                  "strokeDash": {"signal": "DSH[datum.value] || [1,0]"},
                  "strokeWidth": {"signal": "LW[datum.value] || 1.6"},
                  "size": {"signal": "datum.value == 'Lagache+ 00' || datum.value == 'Frayer+ 06' ? 900 : 576"},
                  "opacity": {"value": 1}
                }
              }
            }
          }
        }
      }
    },
    {
      "data": {"name": "arrows"},
      "mark": {"type": "rule", "strokeWidth": 5},
      "encoding": {
        "x": {"field": "x", "type": "quantitative", "scale": {"type": "log", "domain": [0.1, 1000], "nice": false}, "axis": null},
        "y": {"field": "top", "type": "quantitative", "scale": {"type": "log", "domain": [1, 100], "nice": false}, "axis": null},
        "y2": {"field": "head"},
        "color": {"field": "s", "type": "nominal", "legend": null,
          "scale": {"domain": ["Schlegel+ 98","Hauser+ 98","Finkbeiner+ 00","Lagache+ 00","Gardner+ 00","Gorjian+ 00","Cambrésy+ 01","Madau & Pozzetti 01","Metcalfe+ 03","Chary+ 04","Fazio+ 04; Franceschini+ 08","Xu+ 05","Matsumoto+ 05","Frayer+ 06","Bernstein+ 07","Levenson & Wright 08","Matsuura+ 10","Hopwood+ 10","Béthermin+ 10","Berta+ 10","Keenan+ 10","Aharonian+ 06","Mazin & Raue 07 - realistic","Mazin & Raue 07 - extreme","Albert+ 08"],
            "range": ["#008000","#00BFBF","#BFBF00","#FF0000","#BFBF00","#FF0000","#FF0000","#FF0000","#008000","#FF0000","#0000FF","#008000","#00BFBF","#FF0000","#0000FF","#00BFBF","#0000FF","#BFBF00","#BF00BF","#0000FF","#008000","#FF8C00","#00BFBF","#BFBF00","#BF00BF"]}}
      }
    },
    {
      "data": {"name": "arrows"},
      "mark": {"type": "point", "shape": "triangle-down", "filled": true, "size": 380, "opacity": 1},
      "encoding": {
        "x": {"field": "x", "type": "quantitative", "scale": {"type": "log", "domain": [0.1, 1000], "nice": false}, "axis": null},
        "y": {"field": "head", "type": "quantitative", "scale": {"type": "log", "domain": [1, 100], "nice": false}, "axis": null},
        "color": {"field": "s", "type": "nominal", "legend": null}
      }
    },
    {
      "data": {"name": "lines"},
      "transform": [{"filter": "datum.s == 'Gilmore+ 10'"}],
      "mark": {"type": "line", "strokeWidth": 5, "strokeDash": [20, 12], "clip": true},
      "encoding": {
        "x": {"field": "x", "type": "quantitative", "scale": {"type": "log", "domain": [0.1, 1000], "nice": false}, "axis": null},
        "y": {"field": "y", "type": "quantitative", "scale": {"type": "log", "domain": [1, 100], "nice": false}, "axis": null},
        "stroke": {"field": "s", "type": "nominal"}
      }
    },
    {
      "data": {"name": "lines"},
      "transform": [{"filter": "datum.s == 'Franceschini+ 08'"}],
      "mark": {"type": "line", "strokeWidth": 4.5, "strokeDash": [12, 16, 4, 16], "clip": true},
      "encoding": {
        "x": {"field": "x", "type": "quantitative", "scale": {"type": "log", "domain": [0.1, 1000], "nice": false}, "axis": null},
        "y": {"field": "y", "type": "quantitative", "scale": {"type": "log", "domain": [1, 100], "nice": false}, "axis": null},
        "stroke": {"field": "s", "type": "nominal"}
      }
    },
    {
      "data": {"name": "lines"},
      "transform": [{"filter": "datum.s == 'this work'"}],
      "mark": {"type": "line", "strokeWidth": 5.5, "clip": true},
      "encoding": {
        "x": {"field": "x", "type": "quantitative", "scale": {"type": "log", "domain": [0.1, 1000], "nice": false}, "axis": null},
        "y": {"field": "y", "type": "quantitative", "scale": {"type": "log", "domain": [1, 100], "nice": false}, "axis": null},
        "stroke": {"field": "s", "type": "nominal"}
      }
    },
    {
      "data": {"name": "points"},
      "mark": {"type": "rule", "strokeWidth": 2.2, "clip": true},
      "encoding": {
        "x": {"field": "x", "type": "quantitative", "scale": {"type": "log", "domain": [0.1, 1000], "nice": false}, "axis": null},
        "y": {"field": "lo", "type": "quantitative", "scale": {"type": "log", "domain": [1, 100], "nice": false}, "axis": null},
        "y2": {"field": "hi"},
        "color": {"field": "s", "type": "nominal", "legend": null}
      }
    },
    {
      "data": {"name": "points"},
      "transform": [{"fold": ["lo", "hi"], "as": ["k", "v"]}],
      "mark": {"type": "tick", "orient": "horizontal", "size": 20, "thickness": 2, "clip": true},
      "encoding": {
        "x": {"field": "x", "type": "quantitative", "scale": {"type": "log", "domain": [0.1, 1000], "nice": false}, "axis": null},
        "y": {"field": "v", "type": "quantitative", "scale": {"type": "log", "domain": [1, 100], "nice": false}, "axis": null},
        "color": {"field": "s", "type": "nominal", "legend": null}
      }
    },
    {
      "data": {"name": "points"},
      "transform": [{"filter": "indexof(['Schlegel+ 98','Hauser+ 98','Finkbeiner+ 00','Lagache+ 00','Gorjian+ 00','Cambrésy+ 01','Matsumoto+ 05','Bernstein+ 07','Matsuura+ 10'], datum.s) >= 0"}],
      "mark": {"type": "point", "filled": false, "strokeWidth": 2, "opacity": 1, "clip": true},
      "encoding": {
        "x": {"field": "x", "type": "quantitative", "scale": {"type": "log", "domain": [0.1, 1000], "nice": false}, "axis": null},
        "y": {"field": "y", "type": "quantitative", "scale": {"type": "log", "domain": [1, 100], "nice": false}, "axis": null},
        "stroke": {"field": "s", "type": "nominal"},
        "shape": {"field": "s", "type": "nominal", "legend": null,
          "scale": {"domain": ["Schlegel+ 98","Hauser+ 98","Finkbeiner+ 00","Lagache+ 00","Gardner+ 00","Gorjian+ 00","Cambrésy+ 01","Madau & Pozzetti 01","Metcalfe+ 03","Chary+ 04","Fazio+ 04; Franceschini+ 08","Xu+ 05","Matsumoto+ 05","Frayer+ 06","Bernstein+ 07","Levenson & Wright 08","Matsuura+ 10","Hopwood+ 10","Béthermin+ 10","Berta+ 10","Keenan+ 10"],
            "range": ["circle","M0,-1L0.866,-0.5L0.866,0.5L0,1L-0.866,0.5L-0.866,-0.5Z","M0,-1L0.866,-0.5L0.866,0.5L0,1L-0.866,0.5L-0.866,-0.5Z","diamond","circle","square","circle","circle","triangle-left","triangle-right","square","triangle-down","triangle-up","diamond","circle","M0,-1L0.866,-0.5L0.866,0.5L0,1L-0.866,0.5L-0.866,-0.5Z","square","square","circle","circle","square"]}},
        "size": {"field": "s", "type": "nominal", "legend": null,
          "scale": {"type": "ordinal", "domain": ["Schlegel+ 98","Hauser+ 98","Finkbeiner+ 00","Lagache+ 00","Gardner+ 00","Gorjian+ 00","Cambrésy+ 01","Madau & Pozzetti 01","Metcalfe+ 03","Chary+ 04","Fazio+ 04; Franceschini+ 08","Xu+ 05","Matsumoto+ 05","Frayer+ 06","Bernstein+ 07","Levenson & Wright 08","Matsuura+ 10","Hopwood+ 10","Béthermin+ 10","Berta+ 10","Keenan+ 10"],
            "range": [530,480,480,950,530,480,530,530,450,450,480,450,400,1000,530,480,480,480,530,530,480]}}
      }
    },
    {
      "data": {"name": "points"},
      "transform": [{"filter": "indexof(['Gardner+ 00','Madau & Pozzetti 01','Metcalfe+ 03','Chary+ 04','Fazio+ 04; Franceschini+ 08','Xu+ 05','Frayer+ 06','Levenson & Wright 08','Hopwood+ 10','Béthermin+ 10','Berta+ 10','Keenan+ 10'], datum.s) >= 0"}],
      "mark": {"type": "point", "filled": true, "strokeWidth": 1.5, "opacity": 1, "clip": true},
      "encoding": {
        "x": {"field": "x", "type": "quantitative", "scale": {"type": "log", "domain": [0.1, 1000], "nice": false}, "axis": null},
        "y": {"field": "y", "type": "quantitative", "scale": {"type": "log", "domain": [1, 100], "nice": false}, "axis": null},
        "stroke": {"field": "s", "type": "nominal"},
        "fill": {"field": "s", "type": "nominal", "legend": null,
          "scale": {"domain": ["Gardner+ 00","Madau & Pozzetti 01","Metcalfe+ 03","Chary+ 04","Fazio+ 04; Franceschini+ 08","Xu+ 05","Frayer+ 06","Levenson & Wright 08","Hopwood+ 10","Béthermin+ 10","Berta+ 10","Keenan+ 10"],
            "range": ["#BFBF00","#FF0000","#008000","#FF0000","#0000FF","#008000","#FF0000","#00BFBF","#BFBF00","#BF00BF","#0000FF","#008000"]}},
        "shape": {"field": "s", "type": "nominal", "legend": null,
          "scale": {"domain": ["Schlegel+ 98","Hauser+ 98","Finkbeiner+ 00","Lagache+ 00","Gardner+ 00","Gorjian+ 00","Cambrésy+ 01","Madau & Pozzetti 01","Metcalfe+ 03","Chary+ 04","Fazio+ 04; Franceschini+ 08","Xu+ 05","Matsumoto+ 05","Frayer+ 06","Bernstein+ 07","Levenson & Wright 08","Matsuura+ 10","Hopwood+ 10","Béthermin+ 10","Berta+ 10","Keenan+ 10"],
            "range": ["circle","M0,-1L0.866,-0.5L0.866,0.5L0,1L-0.866,0.5L-0.866,-0.5Z","M0,-1L0.866,-0.5L0.866,0.5L0,1L-0.866,0.5L-0.866,-0.5Z","diamond","circle","square","circle","circle","triangle-left","triangle-right","square","triangle-down","triangle-up","diamond","circle","M0,-1L0.866,-0.5L0.866,0.5L0,1L-0.866,0.5L-0.866,-0.5Z","square","square","circle","circle","square"]}},
        "size": {"field": "s", "type": "nominal", "legend": null,
          "scale": {"type": "ordinal", "domain": ["Schlegel+ 98","Hauser+ 98","Finkbeiner+ 00","Lagache+ 00","Gardner+ 00","Gorjian+ 00","Cambrésy+ 01","Madau & Pozzetti 01","Metcalfe+ 03","Chary+ 04","Fazio+ 04; Franceschini+ 08","Xu+ 05","Matsumoto+ 05","Frayer+ 06","Bernstein+ 07","Levenson & Wright 08","Matsuura+ 10","Hopwood+ 10","Béthermin+ 10","Berta+ 10","Keenan+ 10"],
            "range": [530,480,480,950,530,480,530,530,450,450,480,450,400,1000,530,480,480,480,530,530,480]}}
      }
    },
    {
      "data": {"values": [{}]},
      "mark": {"type": "text", "text": "Starlight", "font": "Lato", "fontSize": 102, "color": "#00A4D9", "align": "left", "baseline": "alphabetic"},
      "encoding": {
        "x": {"datum": 0.0439, "type": "quantitative", "scale": {"type": "log", "domain": [0.1, 1000], "nice": false}, "axis": null},
        "y": {"datum": 137, "type": "quantitative", "scale": {"type": "log", "domain": [1, 100], "nice": false}, "axis": null}
      }
    },
    {
      "data": {"values": [{}]},
      "mark": {"type": "text", "text": "Dust", "font": "Lato", "fontSize": 102, "color": "#E22400", "align": "left", "baseline": "alphabetic"},
      "encoding": {
        "x": {"datum": 42.5, "type": "quantitative", "scale": {"type": "log", "domain": [0.1, 1000], "nice": false}, "axis": null},
        "y": {"datum": 137, "type": "quantitative", "scale": {"type": "log", "domain": [1, 100], "nice": false}, "axis": null}
      }
    },
    {
      "data": {"values": [{}]},
      "mark": {"type": "rect", "color": "#FFC800"},
      "encoding": {
        "x": {"datum": 4699, "type": "quantitative", "scale": {"type": "log", "domain": [0.1, 1000], "nice": false}, "axis": null},
        "x2": {"datum": 100000},
        "y": {"datum": 0.8653, "type": "quantitative", "scale": {"type": "log", "domain": [1, 100], "nice": false}, "axis": null},
        "y2": {"datum": 0.6646}
      }
    },
    {
      "data": {"values": [{}]},
      "mark": {"type": "text", "text": "Dominguez+", "font": "Lato", "fontSize": 44, "color": "black", "align": "right", "baseline": "alphabetic"},
      "encoding": {
        "x": {"datum": 60700, "type": "quantitative", "scale": {"type": "log", "domain": [0.1, 1000], "nice": false}, "axis": null},
        "y": {"datum": 0.7118, "type": "quantitative", "scale": {"type": "log", "domain": [1, 100], "nice": false}, "axis": null}
      }
    }
  ]
}
